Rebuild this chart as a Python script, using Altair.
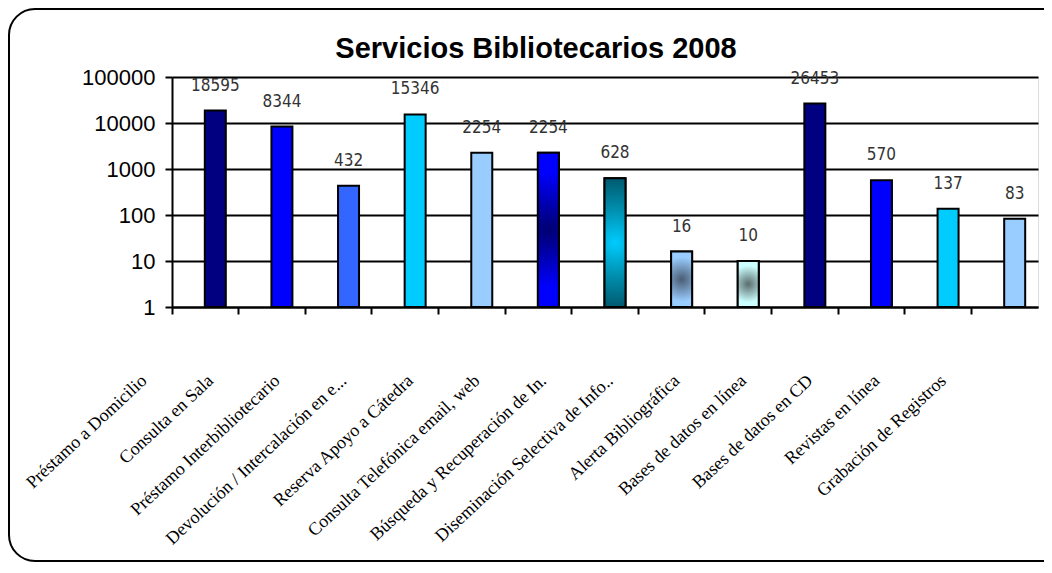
import altair as alt
import pandas as pd

# ---- data ----
categories = [
    "Préstamo a Domicilio",
    "Consulta  en Sala",
    "Préstamo Interbibliotecario",
    "Devolución / Intercalación en e...",
    "Reserva  Apoyo a Cátedra",
    "Consulta Telefónica email, web",
    "Búsqueda y Recuperación de In.",
    "Diseminación Selectiva de Info..",
    "Alerta Bibliográfica",
    "Bases de datos en línea",
    "Bases de datos en CD",
    "Revistas en línea",
    "Grabación de Registros",
]
values = [18595, 8344, 432, 15346, 2254, 2254, 628, 16, 10, 26453, 570, 137, 83]
y_ticks = [1, 10, 100, 1000, 10000, 100000]
title_text = "Servicios Bibliotecarios 2008"

# ---- styles ----
bar_colors = ["#000080", "#0000FF", "#3366FF", "#00CCFF", "#99CCFF", "#0000FF",
              "#0096B4", "#99CCFF", "#CCFFFF", "#000080", "#0000FF", "#00CCFF", "#99CCFF"]
gradient_stops = {
    5: [("#000070", 0.0), ("#0000FF", 0.75), ("#0000FF", 1.0)],
    6: [("#00CCFF", 0.0), ("#0090B0", 0.5), ("#005A70", 1.0)],
    7: [("#4A5C72", 0.0), ("#99CCFF", 0.8), ("#99CCFF", 1.0)],
    8: [("#5A6C6C", 0.0), ("#CCFFFF", 0.8), ("#CCFFFF", 1.0)],
}

W, H = 866, 230
df = pd.DataFrame({"cat": categories, "value": values})

x_enc = alt.X(
    "cat:N", sort=categories, title=None,
    scale=alt.Scale(paddingInner=0, paddingOuter=0),
    axis=alt.Axis(
        bandPosition=0, labelAngle=317, labelAlign="right", labelBaseline="middle",
        labelOffset=-61, labelPadding=64, labelLimit=500,
        labelFont="Liberation Serif", labelFontSize=18, labelColor="black",
        tickColor="black", tickWidth=2, tickSize=7,
        domainColor="black", domainWidth=2, grid=False,
    ),
)
y_enc = alt.Y(
    "value:Q", title=None,
    scale=alt.Scale(type="log", domain=[1, 100000], nice=False),
    axis=alt.Axis(
        values=y_ticks, format="d", labelFont="Liberation Sans", labelFontSize=22,
        labelColor="black", labelPadding=10, tickColor="black", tickWidth=2, tickSize=7,
        domainColor="black", domainWidth=2, grid=True, gridColor="black", gridWidth=2,
    ),
)

base = alt.Chart(df)
bar_style = dict(width=21, stroke="black", strokeWidth=2, xOffset=10)

bars = base.mark_bar(**bar_style).encode(
    x=x_enc, y=y_enc, y2=alt.datum(1),
    color=alt.Color("cat:N", scale=alt.Scale(domain=categories, range=bar_colors), legend=None),
)

grad_layers = []
for idx, stops in gradient_stops.items():
    grad = alt.RadialGradient(
        gradient="radial",
        stops=[alt.GradientStop(color=c, offset=o) for c, o in stops],
        x1=0.5, y1=0.5, r1=0, x2=0.5, y2=0.5, r2=0.5,
    )
    grad_layers.append(
        base.transform_filter(alt.datum.cat == categories[idx])
        .mark_bar(color=grad, **bar_style)
        .encode(x=x_enc, y=y_enc, y2=alt.datum(1))
    )

labels = base.mark_text(
    baseline="alphabetic", dy=-20, xOffset=10,
    font="Liberation Sans Narrow, Arial Narrow, DejaVu Sans Condensed",
    fontSize=17, color="#333333",
).encode(x=x_enc, y=y_enc, text=alt.Text("value:Q", format="d"))

frame = alt.Chart(pd.DataFrame({"k": [0]})).mark_rect(
    fill="white", fillOpacity=0, stroke="black", strokeWidth=2, cornerRadius=26,
).encode(x=alt.value(-163), x2=alt.value(W + 40), y=alt.value(-68), y2=alt.value(484))

chart = alt.layer(frame, bars, *grad_layers, labels).properties(
    width=W, height=H,
    title=alt.TitleParams(
        title_text, font="Liberation Sans", fontSize=29, fontWeight="bold",
        color="black", anchor="middle", baseline="alphabetic", dx=-69, dy=85, offset=6,
    ),
    autosize=alt.AutoSizeParams(type="none"),
    padding={"left": 164, "top": 69, "right": 6, "bottom": 256},
).configure_view(stroke="#808080", strokeWidth=2).configure(background="white")

chart.save("out.html", embed_options={"renderer": "svg", "actions": False})
